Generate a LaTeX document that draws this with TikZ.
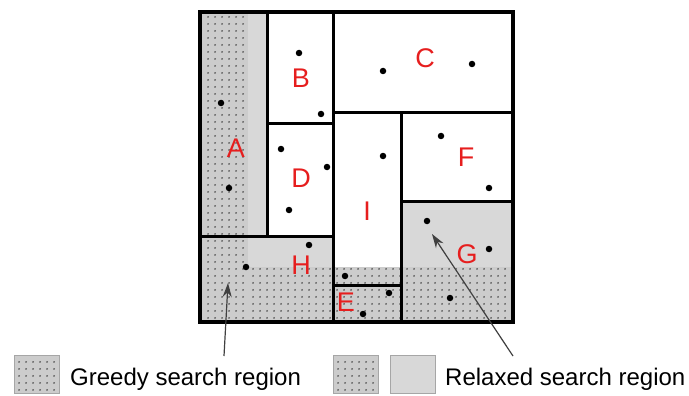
\documentclass[tikz,border=0pt]{standalone}
\usepackage{fontspec}
\setmainfont{Liberation Sans}
\usepackage{xcolor}
\usetikzlibrary{arrows.meta,patterns.meta}

\definecolor{lightbg}{RGB}{216,216,216}
\definecolor{dotbg}{RGB}{204,204,204}
\definecolor{dotfg}{RGB}{80,80,80}
\definecolor{labred}{RGB}{230,30,30}

\tikzset{
  dotted region/.style={preaction={fill=dotbg}, pattern={Dots[distance=6.5pt,radius=1pt]}, pattern color=dotfg},
  gray region/.style={fill=lightbg},
  wall/.style={line width=3pt, line cap=rect},
  region label/.style={text=labred, inner sep=0pt, font=\fontsize{27}{30}\selectfont},
  legend text/.style={inner sep=0pt, anchor=base west, font=\fontsize{24}{28}\selectfont},
  legend box/.style={draw=gray!70, line width=0.6pt, minimum width=45pt, minimum height=38pt, inner sep=0pt},
  pointer/.style={-{Stealth[length=14pt,width=9pt]}, line width=1.2pt, draw=black!75},
  point/.style={circle, fill=black, inner sep=0pt, minimum size=6.5pt}
}

\begin{document}
\begin{tikzpicture}[x=1pt, y=-1pt]
\useasboundingbox (0,0) rectangle (689,396);

% Search regions
\path[dotted region] (200,12) rectangle (248,322);
\path[dotted region] (248,267) rectangle (513,322);
\path[gray region] (248,12) rectangle (267,236);
\path[gray region] (248,236) rectangle (333,267);
\path[gray region] (401,201) rectangle (513,267);

% Partition lines
\draw[wall] (267,12) -- (267,236);
\draw[wall] (333,12) -- (333,322);
\draw[wall] (200,236) -- (333,236);
\draw[wall] (267,124) -- (333,124);
\draw[wall] (333,113) -- (513,113);
\draw[wall] (401,113) -- (401,322);
\draw[wall] (401,201) -- (513,201);
\draw[wall] (333,285) -- (401,285);
\draw[line width=3.2pt] (200,12) rectangle (513,322);

% Data points
\foreach \px/\py [count=\i] in {299/53, 321/114, 221/103, 229/188, 383/71, 472/64,
    281/149, 327/167, 289/210, 383/156, 441/136, 489/188, 427/221, 489/249,
    309/245, 246/267, 345/276, 389/293, 363/314, 450/298}
  \node[point] (pt\i) at (\px,\py) {};

% Region labels
\node[region label] (labA) at (236,148) {A};
\node[region label] (labB) at (301,78) {B};
\node[region label] (labC) at (425,58) {C};
\node[region label] (labD) at (301,178) {D};
\node[region label] (labE) at (346,302) {E};
\node[region label] (labF) at (466,157) {F};
\node[region label] (labG) at (467,254) {G};
\node[region label] (labH) at (301,265) {H};
\node[region label] (labI) at (367,211) {I};

% Legend
\node[legend box, dotted region] (greedybox) at (36.5,374) {};
\node[legend text] (greedytext) at (70,385) {Greedy search region};
\node[legend box, dotted region] (relaxedbox) at (356,374) {};
\node[legend box, gray region] (relaxedgray) at (412.5,374) {};
\node[legend text] (relaxedtext) at (445,385) {Relaxed search region};

% Pointers to the regions
\coordinate (greedyfoot) at (224,356);
\coordinate (greedyhead) at (228,283);
\coordinate (relaxedfoot) at (513,356);
\coordinate (relaxedhead) at (432,234);
\draw[pointer] (greedyfoot) -- (greedyhead);
\draw[pointer] (relaxedfoot) -- (relaxedhead);

\end{tikzpicture}
\end{document}
